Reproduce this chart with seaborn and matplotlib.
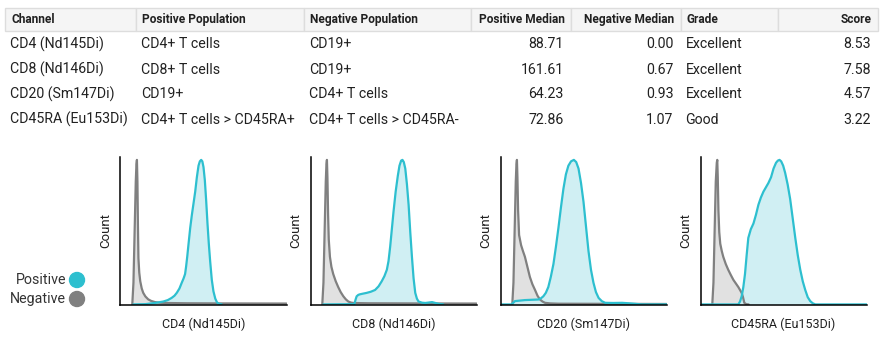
import matplotlib
matplotlib.use("Agg")
import matplotlib.pyplot as plt
from matplotlib.patches import Rectangle, Ellipse
import seaborn as sns
import pandas as pd

sns.set_theme(style="white")
plt.rcParams["font.family"] = ["Roboto", "DejaVu Sans"]

# ---------------- table contents ----------------
columns = ["Channel", "Positive Population", "Negative Population",
           "Positive Median", "Negative Median", "Grade", "Score"]
channels = ["CD4 (Nd145Di)", "CD8 (Nd146Di)", "CD20 (Sm147Di)", "CD45RA (Eu153Di)"]
positive_pop = ["CD4+ T cells", "CD8+ T cells", "CD19+", "CD4+ T cells > CD45RA+"]
negative_pop = ["CD19+", "CD19+", "CD4+ T cells", "CD4+ T cells > CD45RA-"]
positive_median = [88.71, 161.61, 64.23, 72.86]
negative_median = [0.00, 0.67, 0.93, 1.07]
grades = ["Excellent", "Excellent", "Excellent", "Good"]
scores = [8.53, 7.58, 4.57, 3.22]

# ---------------- histogram traces (x: % of channel range, y: relative count) ----------------
cd4_neg_x = [7.1, 7.8, 8.5, 9.2, 9.6, 9.9, 10.2, 10.5, 10.8, 11.3, 11.9, 12.8, 13.7,
             15.0, 16.7, 18.5, 20.8, 23.5, 26.8, 40, 60, 100]
cd4_neg_y = [0, 0.15, 0.50, 0.85, 0.97, 1.0, 0.85, 0.55, 0.32, 0.22, 0.16, 0.11, 0.08,
             0.055, 0.035, 0.024, 0.016, 0.012, 0.010, 0.008, 0.007, 0.006]
cd4_pos_x = [7.7, 15, 20.8, 25.8, 28.5, 30.8, 32.5, 33.9, 35.5, 36.9, 38.0, 38.9, 39.5,
             40.2, 41.0, 42.0, 43.0, 44.0, 45.0, 46.0, 47.0, 47.8, 48.6, 49.3, 50.0,
             50.8, 51.6, 52.4, 53.2, 54.0, 55.0, 56.0, 57.1, 58.1, 59.1, 61]
cd4_pos_y = [0, 0.002, 0.01, 0.02, 0.03, 0.045, 0.06, 0.08, 0.11, 0.15, 0.18, 0.21, 0.26,
             0.33, 0.42, 0.53, 0.62, 0.70, 0.78, 0.88, 0.96, 0.99, 1.0, 0.99, 0.95,
             0.86, 0.72, 0.56, 0.42, 0.30, 0.17, 0.09, 0.04, 0.015, 0.005, 0]

cd8_neg_x = [7.1, 7.8, 8.5, 9.2, 9.6, 9.9, 10.2, 10.6, 11.0, 11.7, 12.6, 13.7, 15.2,
             16.7, 18.2, 19.8, 21.3, 22.8, 24.3, 25.8, 30, 35, 60, 100]
cd8_neg_y = [0, 0.15, 0.50, 0.85, 0.97, 1.0, 0.88, 0.62, 0.45, 0.33, 0.26, 0.21, 0.16,
             0.12, 0.085, 0.056, 0.035, 0.02, 0.013, 0.01, 0.009, 0.008, 0.007, 0.006]
cd8_pos_x = [7.7, 26.4, 27.2, 27.8, 28.8, 29.8, 31.8, 33.9, 36.4, 38.9, 41.0, 42.9, 44.5,
             46.0, 47.0, 48.0, 49.0, 50.0, 51.3, 52.6, 53.6, 54.6, 55.4, 56.2, 57.1,
             58.1, 59.1, 60.1, 61.1, 62.1, 63.1, 64.1, 65.1, 67.2, 69.2, 71.2, 73.2,
             77.2, 80]
cd8_pos_y = [0, 0.002, 0.035, 0.056, 0.066, 0.07, 0.075, 0.08, 0.088, 0.10, 0.125, 0.16, 0.195,
             0.24, 0.30, 0.40, 0.52, 0.64, 0.78, 0.89, 0.96, 0.995, 1.0, 0.985, 0.94,
             0.83, 0.69, 0.50, 0.33, 0.18, 0.08, 0.04, 0.02, 0.012, 0.01, 0.013, 0.016,
             0.004, 0]

cd20_neg_x = [7.1, 7.8, 8.5, 9.2, 9.6, 9.9, 10.2, 10.6, 11.2, 12.4, 13.5, 14.7, 16.2,
              17.7, 19.2, 20.8, 22.3, 23.8, 25.3, 26.8, 30, 35, 100]
cd20_neg_y = [0, 0.15, 0.50, 0.85, 0.97, 1.0, 0.88, 0.65, 0.48, 0.41, 0.37, 0.33, 0.26,
              0.19, 0.14, 0.10, 0.06, 0.034, 0.02, 0.011, 0.007, 0.005, 0.003]
cd20_pos_x = [0, 6.7, 8.7, 14.7, 22.8, 24.3, 25.8, 27.3, 28.8, 30.3, 31.9, 33.4, 34.9,
              36.4, 37.9, 39.4, 40.9, 42.5, 44.2, 45.6, 47.0, 48.5, 50.0, 51.5, 53.0,
              54.5, 56.0, 57.5, 59.1, 61.1, 63.1, 68, 73.2, 77, 81.3, 85, 100]
cd20_pos_y = [0, 0, 0.023, 0.03, 0.034, 0.042, 0.056, 0.08, 0.12, 0.19, 0.28, 0.40, 0.53,
              0.67, 0.80, 0.90, 0.96, 0.99, 1.0, 0.985, 0.94, 0.84, 0.71, 0.54, 0.37,
              0.24, 0.15, 0.085, 0.045, 0.022, 0.011, 0.01, 0.011, 0.008, 0.004, 0, 0]

cd45ra_neg_x = [7.1, 7.8, 8.5, 9.2, 9.8, 10.1, 10.4, 10.8, 11.3, 11.9, 12.8, 13.7, 15.2,
                16.7, 18.2, 19.8, 21.3, 22.8, 23.8, 24.8, 25.6, 26.4, 27.5, 29]
cd45ra_neg_y = [0, 0.15, 0.50, 0.85, 0.98, 1.0, 0.88, 0.65, 0.50, 0.42, 0.37, 0.33, 0.28,
                0.24, 0.205, 0.17, 0.145, 0.12, 0.10, 0.08, 0.05, 0.011, 0.002, 0]
cd45ra_pos_x = [0, 22.8, 23.8, 24.8, 25.8, 26.8, 27.8, 28.8, 30.3, 31.9, 33.4, 34.9,
                36.4, 37.9, 39.4, 40.9, 42.5, 44.0, 45.5, 46.6, 47.6, 48.6, 49.8, 51.0,
                52.5, 54.0, 55.5, 57.1, 58.6, 60.1, 61.6, 63.1, 64.6, 66.1, 67.6, 69.2, 100]
cd45ra_pos_y = [0, 0, 0.02, 0.056, 0.12, 0.21, 0.34, 0.46, 0.52, 0.56, 0.62, 0.69,
                0.74, 0.78, 0.81, 0.84, 0.88, 0.94, 0.98, 0.995, 1.0, 0.99, 0.96, 0.91,
                0.83, 0.73, 0.60, 0.46, 0.34, 0.24, 0.16, 0.10, 0.05, 0.023, 0.008, 0, 0]

traces = [
    (cd4_neg_x, cd4_neg_y, cd4_pos_x, cd4_pos_y),
    (cd8_neg_x, cd8_neg_y, cd8_pos_x, cd8_pos_y),
    (cd20_neg_x, cd20_neg_y, cd20_pos_x, cd20_pos_y),
    (cd45ra_neg_x, cd45ra_neg_y, cd45ra_pos_x, cd45ra_pos_y),
]

POS_COLOR = "#2dbfcf"
POS_FILL = "#cbeef2"
NEG_COLOR = "#808080"
NEG_FILL = "#dedede"
TEXT = "#212121"

W, H = 889, 340
fig = plt.figure(figsize=(W / 100, H / 100), dpi=100)


def fx(px):
    return px / W


def fy(py):
    return 1 - py / H


# ---------------- table ----------------
col_edges = [5, 136, 304, 470.5, 570.5, 680.5, 778, 878]
col_align = ["left", "left", "left", "right", "right", "left", "right"]
head_top, head_bot = 7.5, 31
for i in range(len(columns)):
    x0, x1 = col_edges[i], col_edges[i + 1]
    fig.add_artist(Rectangle((fx(x0), fy(head_bot)), fx(x1 - x0), (head_bot - head_top) / H,
                             transform=fig.transFigure, facecolor="#f5f5f5",
                             edgecolor="#dddddd", linewidth=1.0))
    tx = x0 + 6 if col_align[i] == "left" else x1 - 6
    fig.text(fx(tx), fy(19.5), columns[i], ha=col_align[i], va="center",
             fontsize=8.6, fontweight="bold", color=TEXT)

rows = list(zip(channels, positive_pop, negative_pop,
                [f"{v:.2f}" for v in positive_median],
                [f"{v:.2f}" for v in negative_median],
                grades, [f"{v:.2f}" for v in scores]))
for r, row in enumerate(rows):
    y = 44.5 + 25 * r
    for i, val in enumerate(row):
        x0, x1 = col_edges[i], col_edges[i + 1]
        tx = x0 + 5 if col_align[i] == "left" else x1 - 7
        fig.text(fx(tx), fy(y), val, ha=col_align[i], va="center",
                 fontsize=10.2, color=TEXT)

# ---------------- histograms ----------------
ax_lefts = [120.5, 310.5, 500.5, 700.5]
ax_w, ax_top, ax_bot = 166, 157, 305
for left, name, (nx, ny, px_, py_) in zip(ax_lefts, channels, traces):
    ax = fig.add_axes([fx(left), fy(ax_bot), fx(ax_w), (ax_bot - ax_top) / H])
    neg = pd.DataFrame({"x": nx, "y": ny})
    pos = pd.DataFrame({"x": px_, "y": py_})
    ax.fill_between(neg["x"], 0, neg["y"], color=NEG_FILL, alpha=0.9, linewidth=0)
    ax.fill_between(pos["x"], 0, pos["y"], color=POS_FILL, alpha=0.9, linewidth=0)
    sns.lineplot(data=neg, x="x", y="y", ax=ax, color=NEG_COLOR, linewidth=1.6,
                 sort=False, estimator=None)
    sns.lineplot(data=pos, x="x", y="y", ax=ax, color=POS_COLOR, linewidth=1.6,
                 sort=False, estimator=None)
    ax.set_xlim(0, 100)
    ax.set_ylim(-0.004, 1.02)
    ax.set_xticks([])
    ax.set_yticks([])
    for s in ["top", "right"]:
        ax.spines[s].set_visible(False)
    for s in ["left", "bottom"]:
        ax.spines[s].set_color("black")
        ax.spines[s].set_linewidth(1.1)
    ax.set_xlabel(name, fontsize=9, color=TEXT, labelpad=9)
    ax.set_ylabel("Count", fontsize=9.5, color=TEXT, labelpad=6)
    ax.patch.set_alpha(0)

# ---------------- legend ----------------
for label, color, y in [("Positive", POS_COLOR, 280), ("Negative", NEG_COLOR, 299)]:
    fig.text(fx(66), fy(y), label, ha="right", va="center", fontsize=10.3, color="#333333")
    fig.add_artist(Ellipse((fx(77), fy(y)), 15 / W, 15 / H, transform=fig.transFigure,
                           color=color))

fig.savefig("out.png", dpi=100)
